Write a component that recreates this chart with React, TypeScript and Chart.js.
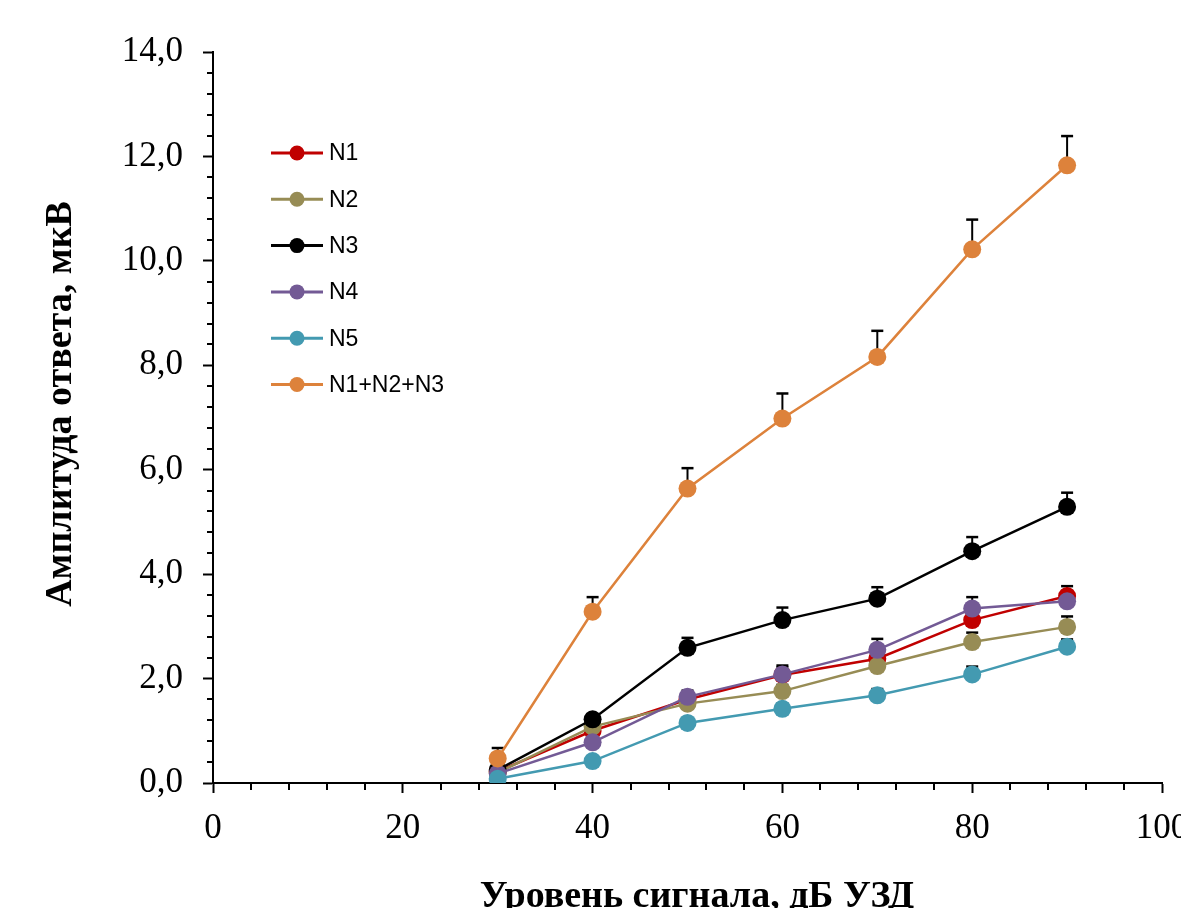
import React, { useEffect, useRef } from "react";
import { Chart, registerables } from "chart.js";

Chart.register(...registerables);

const levels = [30, 40, 50, 60, 70, 80, 90];

const seriesNames = ["N1", "N2", "N3", "N4", "N5", "N1+N2+N3"];
const seriesColors = ["#C00000", "#978C55", "#000000", "#735A95", "#439AB1", "#DD823B"];

const n1 = [0.22, 1.0, 1.6, 2.07, 2.38, 3.12, 3.58];
const n2 = [0.2, 1.08, 1.52, 1.76, 2.24, 2.7, 2.99];
const n3 = [0.25, 1.22, 2.59, 3.12, 3.53, 4.44, 5.29];
const n4 = [0.18, 0.78, 1.65, 2.08, 2.55, 3.34, 3.48];
const n5 = [0.08, 0.42, 1.15, 1.42, 1.68, 2.08, 2.61];
const nSum = [0.47, 3.28, 5.64, 6.98, 8.16, 10.22, 11.83];

const n1Err = [0.05, 0.12, 0.12, 0.15, 0.17, 0.2, 0.19];
const n2Err = [0.04, 0.08, 0.1, 0.12, 0.15, 0.18, 0.2];
const n3Err = [0.05, 0.1, 0.19, 0.24, 0.22, 0.27, 0.27];
const n4Err = [0.04, 0.08, 0.12, 0.17, 0.21, 0.22, 0.2];
const n5Err = [0.02, 0.05, 0.08, 0.1, 0.12, 0.15, 0.14];
const nSumErr = [0.2, 0.28, 0.39, 0.48, 0.5, 0.57, 0.56];

const seriesValues = [n1, n2, n3, n4, n5, nSum];
const seriesErrors = [n1Err, n2Err, n3Err, n4Err, n5Err, nSumErr];

const xTitle = "Уровень сигнала, дБ УЗД";
const yTitle = "Амплитуда ответа, мкВ";

const X_MIN = 0, X_MAX = 100, X_MAJOR = 20, X_MINOR = 4;
const Y_MIN = 0, Y_MAX = 14, Y_MAJOR = 2, Y_MINOR = 0.4;

const isMultiple = (v: number, step: number) => Math.abs(v / step - Math.round(v / step)) < 1e-6;

const errorBarPlugin = {
  id: "errorBars",
  beforeDatasetsDraw(chart: any) {
    const ctx = chart.ctx;
    const yScale = chart.scales.y;
    ctx.save();
    ctx.strokeStyle = "#000";
    chart.data.datasets.forEach((ds: any, i: number) => {
      const meta = chart.getDatasetMeta(i);
      const errs = seriesErrors[i];
      const vals = seriesValues[i];
      meta.data.forEach((pt: any, j: number) => {
        const x = pt.x;
        const y = pt.y;
        const yTop = yScale.getPixelForValue(vals[j] + errs[j]);
        ctx.lineWidth = 2;
        ctx.beginPath();
        ctx.moveTo(x, y);
        ctx.lineTo(x, yTop);
        ctx.stroke();
        ctx.lineWidth = 2.5;
        ctx.beginPath();
        ctx.moveTo(x - 6, yTop);
        ctx.lineTo(x + 6, yTop);
        ctx.stroke();
      });
    });
    ctx.restore();
  },
};

const decorPlugin = {
  id: "decor",
  afterDraw(chart: any) {
    const ctx = chart.ctx;
    const xs = chart.scales.x;
    const ys = chart.scales.y;
    const area = chart.chartArea;
    ctx.save();
    // minor ticks
    ctx.strokeStyle = "#000";
    ctx.lineWidth = 2;
    for (let v = X_MIN; v <= X_MAX + 1e-9; v += X_MINOR) {
      if (isMultiple(v, X_MAJOR)) continue;
      const px = Math.round(xs.getPixelForValue(v));
      ctx.beginPath();
      ctx.moveTo(px, area.bottom);
      ctx.lineTo(px, area.bottom + 7);
      ctx.stroke();
    }
    for (let k = 0; k * Y_MINOR <= Y_MAX + 1e-9; k++) {
      const v = k * Y_MINOR;
      if (isMultiple(v, Y_MAJOR)) continue;
      const py = Math.round(ys.getPixelForValue(v));
      ctx.beginPath();
      ctx.moveTo(area.left - 6, py);
      ctx.lineTo(area.left, py);
      ctx.stroke();
    }
    // axis titles
    ctx.fillStyle = "#000";
    ctx.font = "bold 38px 'Liberation Serif', 'Times New Roman', serif";
    ctx.textAlign = "center";
    ctx.textBaseline = "alphabetic";
    ctx.fillText(xTitle, 697, 907);
    ctx.save();
    ctx.translate(71, 404);
    ctx.rotate(-Math.PI / 2);
    ctx.fillText(yTitle, 0, 0);
    ctx.restore();
    // legend
    const lx = area.left + 58;
    const ly = area.top + 101;
    const gap = 46.3;
    ctx.font = "23px 'Liberation Sans', Arial, sans-serif";
    ctx.textAlign = "left";
    ctx.textBaseline = "middle";
    seriesNames.forEach((name, i) => {
      const y = ly + i * gap;
      ctx.strokeStyle = seriesColors[i];
      ctx.lineWidth = 3;
      ctx.beginPath();
      ctx.moveTo(lx, y);
      ctx.lineTo(lx + 52, y);
      ctx.stroke();
      ctx.fillStyle = seriesColors[i];
      ctx.beginPath();
      ctx.arc(lx + 26, y, 7.5, 0, Math.PI * 2);
      ctx.fill();
      ctx.fillStyle = "#000";
      ctx.fillText(name, lx + 58, y + 1);
    });
    ctx.restore();
  },
};

export default function App() {
  const canvasRef = useRef<HTMLCanvasElement | null>(null);

  useEffect(() => {
    if (!canvasRef.current) return;
    const datasets = seriesNames.map((name, i) => ({
      label: name,
      data: levels.map((x, j) => ({ x, y: seriesValues[i][j] })),
      borderColor: seriesColors[i],
      backgroundColor: seriesColors[i],
      borderWidth: 2.5,
      pointRadius: 9,
      pointHoverRadius: 9,
      pointBorderWidth: 0,
      pointBackgroundColor: seriesColors[i],
      tension: 0,
      order: 10 - i,
    }));

    const tickFont = { family: "'Liberation Serif', 'Times New Roman', serif", size: 35 };

    const chart = new Chart(canvasRef.current, {
      type: "line",
      data: { datasets },
      plugins: [errorBarPlugin, decorPlugin],
      options: {
        animation: false,
        responsive: false,
        layout: { padding: { left: 0, top: 52, right: 19, bottom: 0 } },
        plugins: { legend: { display: false }, tooltip: { enabled: false } },
        scales: {
          x: {
            type: "linear",
            min: X_MIN,
            max: X_MAX,
            afterFit: (scale: any) => {
              scale.height = 125;
              scale.paddingLeft = 0;
              scale.paddingRight = 0;
            },
            ticks: {
              stepSize: X_MINOR,
              autoSkip: false,
              maxRotation: 0,
              padding: 15,
              color: "#000",
              font: tickFont,
              callback: (v: any) => (isMultiple(Number(v), X_MAJOR) ? String(Math.round(Number(v))) : ""),
            },
            grid: {
              drawOnChartArea: false,
              drawTicks: true,
              tickLength: 10,
              tickWidth: 2,
              tickColor: (c: any) => (c.tick && isMultiple(c.tick.value, X_MAJOR) ? "#000" : "rgba(0,0,0,0)"),
            },
            border: { display: true, color: "#000", width: 2 },
          },
          y: {
            type: "linear",
            min: Y_MIN,
            max: Y_MAX,
            afterFit: (scale: any) => {
              scale.width = 213;
              scale.paddingTop = 0;
              scale.paddingBottom = 0;
            },
            ticks: {
              stepSize: Y_MINOR,
              autoSkip: false,
              padding: 20,
              color: "#000",
              font: tickFont,
              callback: (v: any) =>
                isMultiple(Number(v), Y_MAJOR) ? Number(v).toFixed(1).replace(".", ",") : "",
            },
            grid: {
              drawOnChartArea: false,
              drawTicks: true,
              tickLength: 10,
              tickWidth: 2,
              tickColor: (c: any) => (c.tick && isMultiple(c.tick.value, Y_MAJOR) ? "#000" : "rgba(0,0,0,0)"),
            },
            border: { display: true, color: "#000", width: 2 },
          },
        },
      },
    });
    return () => chart.destroy();
  }, []);

  return (
    <div style={{ position: "fixed", left: 0, top: 0, width: 1181, height: 908, background: "#fff" }}>
      <canvas ref={canvasRef} width={1181} height={908} style={{ display: "block" }} />
    </div>
  );
}
